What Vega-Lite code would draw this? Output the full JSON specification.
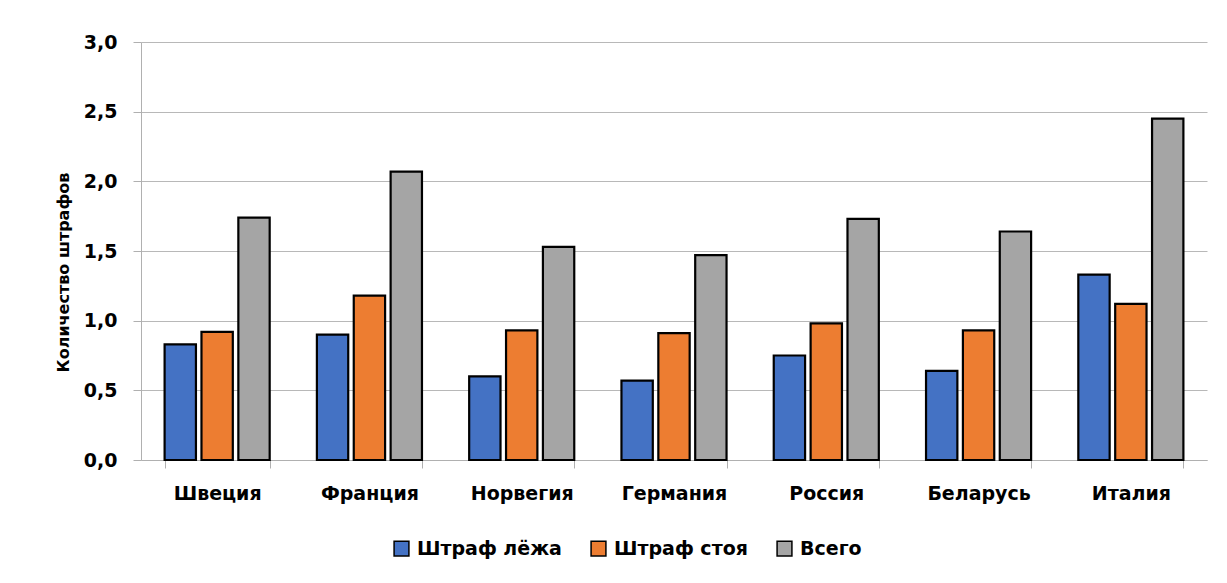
{
  "$schema": "https://vega.github.io/schema/vega-lite/v6.json",
  "width": 1066,
  "height": 418,
  "autosize": {"type": "none"},
  "padding": {"left": 141, "top": 42, "right": 20, "bottom": 123},
  "background": "white",
  "data": {
    "values": [
      {"country": "Швеция", "series": "Штраф лёжа", "value": 0.83},
      {"country": "Швеция", "series": "Штраф стоя", "value": 0.92},
      {"country": "Швеция", "series": "Всего", "value": 1.74},
      {"country": "Франция", "series": "Штраф лёжа", "value": 0.9},
      {"country": "Франция", "series": "Штраф стоя", "value": 1.18},
      {"country": "Франция", "series": "Всего", "value": 2.07},
      {"country": "Норвегия", "series": "Штраф лёжа", "value": 0.6},
      {"country": "Норвегия", "series": "Штраф стоя", "value": 0.93},
      {"country": "Норвегия", "series": "Всего", "value": 1.53},
      {"country": "Германия", "series": "Штраф лёжа", "value": 0.57},
      {"country": "Германия", "series": "Штраф стоя", "value": 0.91},
      {"country": "Германия", "series": "Всего", "value": 1.47},
      {"country": "Россия", "series": "Штраф лёжа", "value": 0.75},
      {"country": "Россия", "series": "Штраф стоя", "value": 0.98},
      {"country": "Россия", "series": "Всего", "value": 1.73},
      {"country": "Беларусь", "series": "Штраф лёжа", "value": 0.64},
      {"country": "Беларусь", "series": "Штраф стоя", "value": 0.93},
      {"country": "Беларусь", "series": "Всего", "value": 1.64},
      {"country": "Италия", "series": "Штраф лёжа", "value": 1.33},
      {"country": "Италия", "series": "Штраф стоя", "value": 1.12},
      {"country": "Италия", "series": "Всего", "value": 2.45}
    ]
  },
  "mark": {"type": "bar", "stroke": "black", "strokeWidth": 2.2},
  "encoding": {
    "x": {
      "field": "country",
      "type": "nominal",
      "sort": ["Швеция", "Франция", "Норвегия", "Германия", "Россия", "Беларусь", "Италия"],
      "scale": {"paddingInner": 0.31, "paddingOuter": 0.155},
      "axis": {
        "title": null,
        "labelAngle": 0,
        "labelFont": "DejaVu Sans",
        "labelFontSize": 19,
        "labelFontWeight": "bold",
        "labelColor": "black",
        "labelPadding": 16,
        "tickBand": "extent",
        "tickSize": 8,
        "tickColor": "#b0b0b0",
        "domainColor": "#b0b0b0",
        "grid": false
      }
    },
    "xOffset": {
      "field": "series",
      "sort": ["Штраф лёжа", "Штраф стоя", "Всего"],
      "scale": {"paddingInner": 0.15}
    },
    "y": {
      "field": "value",
      "type": "quantitative",
      "scale": {"domain": [0, 3]},
      "axis": {
        "title": "Количество штрафов",
        "titleFont": "DejaVu Sans",
        "titleFontSize": 16,
        "titleFontWeight": "bold",
        "titleColor": "black",
        "titlePadding": 12,
        "titleY": 230,
        "values": [0, 0.5, 1, 1.5, 2, 2.5, 3],
        "labelExpr": "replace(format(datum.value, '.1f'), '.', ',')",
        "labelFont": "DejaVu Sans",
        "labelFontSize": 19,
        "labelFontWeight": "bold",
        "labelColor": "black",
        "labelPadding": 16,
        "tickSize": 8,
        "tickColor": "#b0b0b0",
        "domainColor": "#b0b0b0",
        "gridColor": "#b8b8b8",
        "grid": true
      }
    },
    "color": {
      "field": "series",
      "type": "nominal",
      "sort": ["Штраф лёжа", "Штраф стоя", "Всего"],
      "scale": {"domain": ["Штраф лёжа", "Штраф стоя", "Всего"], "range": ["#4472C4", "#ED7D31", "#A5A5A5"]},
      "legend": {
        "title": null,
        "orient": "none",
        "legendX": 251,
        "legendY": 497,
        "direction": "horizontal",
        "symbolType": "square",
        "symbolSize": 220,
        "symbolStrokeColor": "black",
        "symbolStrokeWidth": 1.5,
        "labelFont": "DejaVu Sans",
        "labelFontSize": 19,
        "labelFontWeight": "bold",
        "labelColor": "black",
        "columnPadding": 26,
        "labelOffset": 6
      }
    }
  },
  "config": {"view": {"stroke": null}, "font": "DejaVu Sans"}
}
